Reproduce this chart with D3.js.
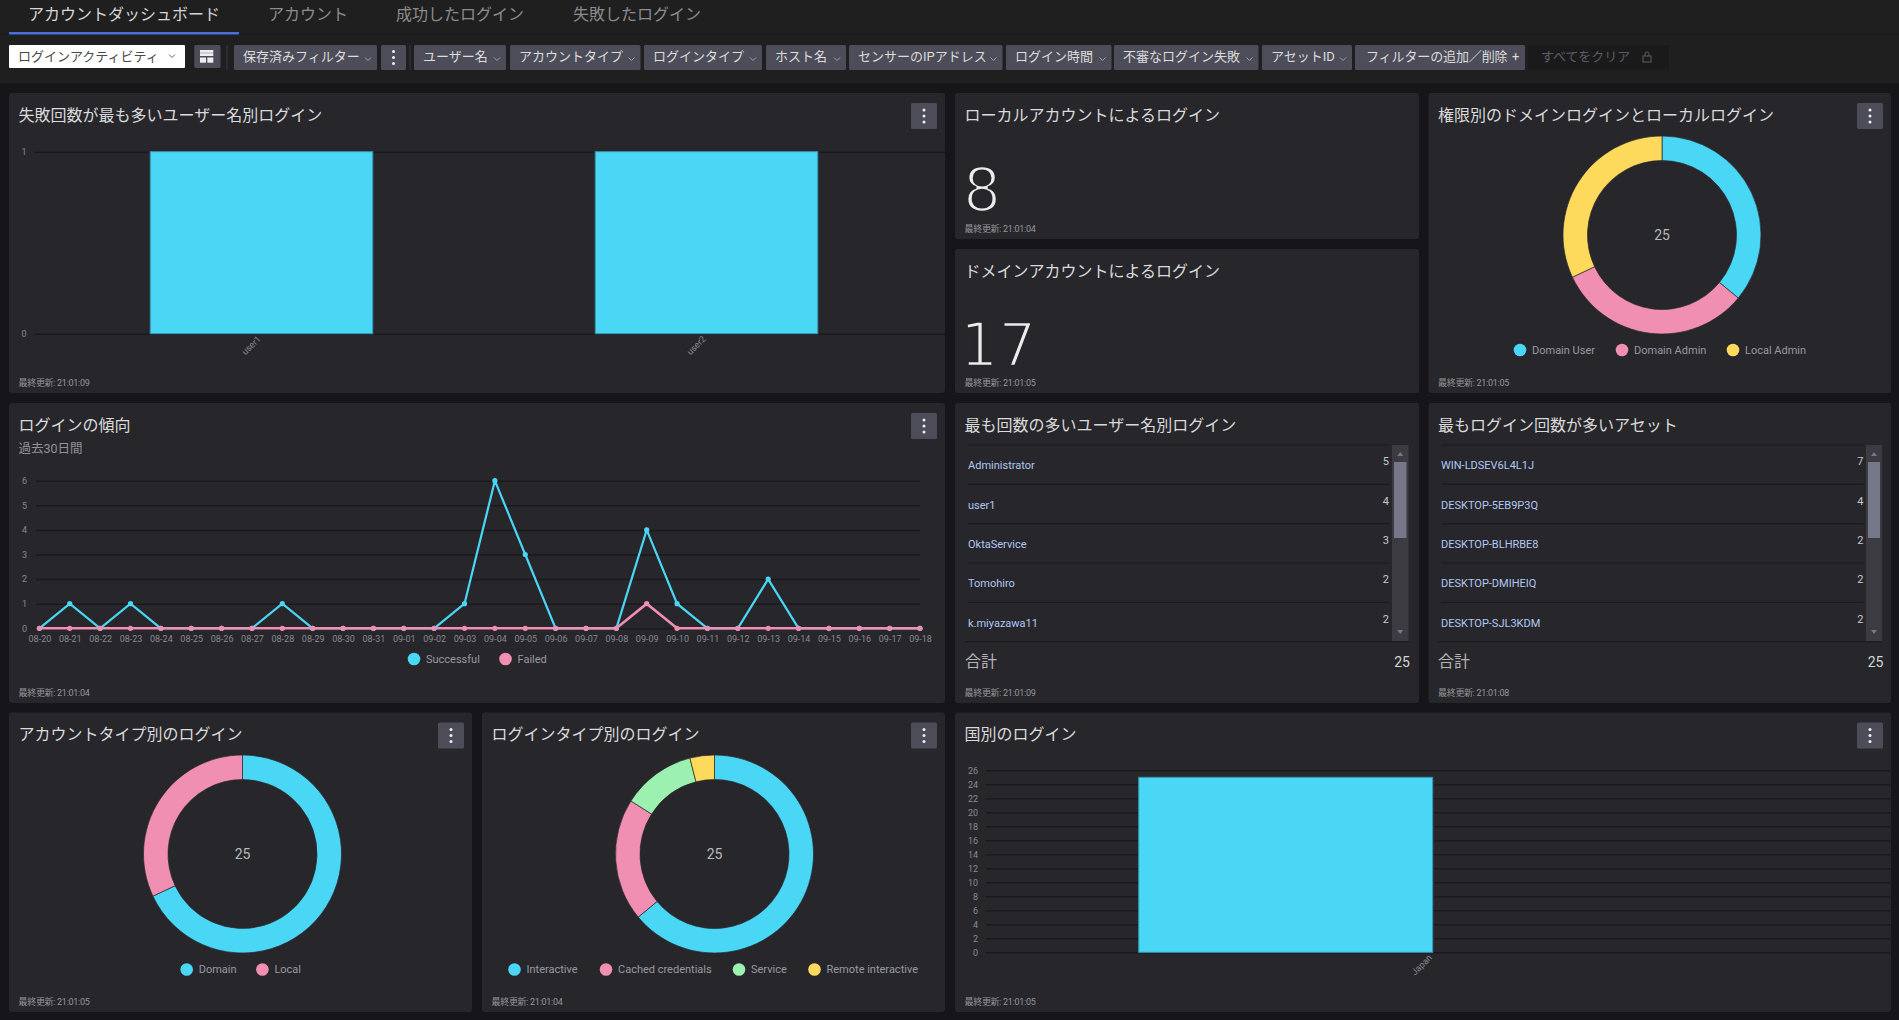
<!DOCTYPE html>
<html lang="ja">
<head>
<meta charset="utf-8">
<title>アカウントダッシュボード</title>
<script src="https://cdn.jsdelivr.net/npm/d3@7"></script>
<style>
  html, body { margin: 0; padding: 0; background: #15151a; overflow: hidden; }
  svg { display: block; }
  text { font-family: Roboto, "Noto Sans CJK JP", sans-serif; }
  .grid line { stroke: #1a1a1e; stroke-width: 1.5; }
  .grid .domain, .xaxis .domain, .xaxis line { display: none; }
  .grid text, .xaxis text { fill: #8a8a92; font-size: 9px; font-family: Roboto, sans-serif; }
</style>
</head>
<body>
<svg id="chart" width="1899" height="1020"></svg>
<script>
// data
const tabLabels = ['アカウントダッシュボード', 'アカウント', '成功したログイン', '失敗したログイン'];
const filterLabels = ['保存済みフィルター', 'ユーザー名', 'アカウントタイプ', 'ログインタイプ', 'ホスト名', 'センサーのIPアドレス', 'ログイン時間', '不審なログイン失敗', 'アセットID'];

const failedUsers = ['user1', 'user2'];
const failedUserCounts = [1, 1];

const localLogins = 8;
const domainLogins = 17;

const privilegeLabels = ['Domain User', 'Domain Admin', 'Local Admin'];
const privilegeCounts = [9, 8, 8];

const trendDates = ['08-20', '08-21', '08-22', '08-23', '08-24', '08-25', '08-26', '08-27', '08-28', '08-29', '08-30', '08-31', '09-01', '09-02', '09-03', '09-04', '09-05', '09-06', '09-07', '09-08', '09-09', '09-10', '09-11', '09-12', '09-13', '09-14', '09-15', '09-16', '09-17', '09-18'];
const trendSuccessful = [0, 1, 0, 1, 0, 0, 0, 0, 1, 0, 0, 0, 0, 0, 1, 6, 3, 0, 0, 0, 4, 1, 0, 0, 2, 0, 0, 0, 0, 0];
const trendFailed = [0, 0, 0, 0, 0, 0, 0, 0, 0, 0, 0, 0, 0, 0, 0, 0, 0, 0, 0, 0, 1, 0, 0, 0, 0, 0, 0, 0, 0, 0];

const topUsers = ['Administrator', 'user1', 'OktaService', 'Tomohiro', 'k.miyazawa11'];
const topUserCounts = [5, 4, 3, 2, 2];
const topAssets = ['WIN-LDSEV6L4L1J', 'DESKTOP-5EB9P3Q', 'DESKTOP-BLHRBE8', 'DESKTOP-DMIHEIQ', 'DESKTOP-SJL3KDM'];
const topAssetCounts = [7, 4, 2, 2, 2];
const listTotal = 25;

const accountTypes = ['Domain', 'Local'];
const accountTypeCounts = [17, 8];
const loginTypes = ['Interactive', 'Cached credentials', 'Service', 'Remote interactive'];
const loginTypeCounts = [16, 5, 3, 1];

const countries = ['Japan'];
const countryCounts = [25];

// colors
const CYAN = '#4ad6f5';
const PINK = '#f08fb2';
const GREEN = '#9cf1b0';
const YELLOW = '#fdd95c';
const PANEL = '#26262b';

const svg = d3.select('#chart');

// top bar
svg.append('rect').attr('width', 1899).attr('height', 83).attr('fill', '#1f1f20');
svg.append('line').attr('x1', 0).attr('x2', 1899).attr('y1', 34).attr('y2', 34)
  .attr('stroke', '#1a1a1b').attr('stroke-width', 1);

const tabX = [28, 268, 396, 573];
svg.selectAll('.tab').data(tabLabels).join('text')
  .attr('class', 'tab')
  .attr('x', (d, i) => tabX[i])
  .attr('y', 14)
  .attr('dy', '0.36em')
  .attr('font-size', 16)
  .attr('fill', (d, i) => (i === 0 ? '#d6d6d6' : '#8c8c8c'))
  .text(d => d);
svg.append('rect').attr('x', 9).attr('y', 32).attr('width', 230).attr('height', 2.5).attr('fill', '#4a6fdc');

// toolbar
function button(x0, x1, h) {
  svg.append('rect').attr('x', x0).attr('y', 45).attr('width', x1 - x0).attr('height', h)
    .attr('rx', 1.5).attr('fill', '#4d4d59');
}
function chevron(x, y, color) {
  svg.append('path')
    .attr('d', d3.line()([[x - 3, y - 1.5], [x, y + 1.5], [x + 3, y - 1.5]]))
    .attr('fill', 'none').attr('stroke', color).attr('stroke-width', 0.9);
}
function dots(cx, cy, gap) {
  svg.append('g').selectAll('circle').data([-gap, 0, gap]).join('circle')
    .attr('cx', cx).attr('cy', d => cy + d).attr('r', 1.5).attr('fill', '#f0f0f0');
}

svg.append('rect').attr('x', 9).attr('y', 45).attr('width', 176).attr('height', 23).attr('rx', 1).attr('fill', '#fff');
svg.append('text').attr('x', 18).attr('y', 56).attr('dy', '0.36em').attr('font-size', 13).attr('fill', '#4a4a4a').text('ログインアクティビティ');
chevron(172, 56, '#555');

button(194.3, 220.5, 23);
svg.append('g').selectAll('rect').data([[200, 50, 13.3, 2.8], [200, 53.2, 13.3, 2.8], [200, 57.5, 6, 5.2], [207.3, 57.5, 6, 5.2]]).join('rect')
  .attr('x', d => d[0]).attr('y', d => d[1]).attr('width', d => d[2]).attr('height', d => d[3]).attr('fill', '#eee');

svg.append('g').selectAll('line').data([227, 410]).join('line')
  .attr('x1', d => d).attr('x2', d => d).attr('y1', 45).attr('y2', 70).attr('stroke', '#3a3a40');

const filterEdges = [[234, 377], [414, 506], [510, 640.5], [644, 762], [766, 846], [849, 1002.5], [1006, 1111.5], [1114, 1258.5], [1262, 1352]];
filterLabels.forEach((label, i) => {
  const [x0, x1] = filterEdges[i];
  button(x0, x1, 25);
  svg.append('text').attr('x', x0 + 9).attr('y', 56.5).attr('dy', '0.36em').attr('font-size', 13).attr('fill', '#dcdcdc').text(label);
  chevron(x1 - 9, 59, '#a8a8b0');
});
button(381, 406, 25);
dots(393.5, 57.5, 6);
button(1355, 1525, 25);
svg.append('text').attr('x', 1366).attr('y', 56.5).attr('dy', '0.36em').attr('font-size', 13).attr('letter-spacing', -0.12).attr('fill', '#dcdcdc').text('フィルターの追加／削除');
svg.append('text').attr('x', 1512).attr('y', 56.5).attr('dy', '0.36em').attr('font-size', 13).attr('fill', '#dcdcdc').text('+');

svg.append('rect').attr('x', 1528).attr('y', 45).attr('width', 141).attr('height', 25).attr('rx', 1.5).attr('fill', '#1a1a1b');
svg.append('text').attr('x', 1541).attr('y', 56.5).attr('dy', '0.36em').attr('font-size', 13).attr('fill', '#5c5c68').text('すべてをクリア');
svg.append('rect').attr('x', 1643).attr('y', 56).attr('width', 8).attr('height', 6).attr('fill', 'none').attr('stroke', '#5c5c68');
svg.append('path').attr('d', 'M1645,56v-2a2,2 0 0 1 4,0v2').attr('fill', 'none').attr('stroke', '#5c5c68');

// panels
function panel(x0, y0, x1, y1, title, updated, hasMenu) {
  svg.append('rect').attr('x', x0).attr('y', y0).attr('width', x1 - x0).attr('height', y1 - y0)
    .attr('rx', 3).attr('fill', PANEL);
  svg.append('text').attr('x', x0 + 9.5).attr('y', y0 + 22).attr('dy', '0.36em')
    .attr('font-size', 16).attr('fill', '#dadada').text(title);
  svg.append('text').attr('x', x0 + 9.5).attr('y', y1 - 10).attr('dy', '0.36em')
    .attr('font-size', 9).attr('letter-spacing', -0.3).attr('fill', '#96969c').text('最終更新: ' + updated);
  if (hasMenu) {
    svg.append('rect').attr('x', x1 - 34).attr('y', y0 + 10).attr('width', 26).attr('height', 26)
      .attr('rx', 1.5).attr('fill', '#4d4d59');
    dots(x1 - 21, y0 + 23, 6);
  }
}

panel(9, 93, 945, 393, '失敗回数が最も多いユーザー名別ログイン', '21:01:09', true);
panel(955, 93, 1419, 239, 'ローカルアカウントによるログイン', '21:01:04', false);
panel(955, 249, 1419, 393, 'ドメインアカウントによるログイン', '21:01:05', false);
panel(1428.5, 93, 1891, 393, '権限別のドメインログインとローカルログイン', '21:01:05', true);
panel(9, 403, 945, 703, 'ログインの傾向', '21:01:04', true);
panel(955, 403, 1419, 703, '最も回数の多いユーザー名別ログイン', '21:01:09', false);
panel(1428.5, 403, 1891, 703, '最もログイン回数が多いアセット', '21:01:08', false);
panel(9, 712.5, 472, 1012, 'アカウントタイプ別のログイン', '21:01:05', true);
panel(482, 712.5, 945, 1012, 'ログインタイプ別のログイン', '21:01:04', true);
panel(955, 712.5, 1891, 1012, '国別のログイン', '21:01:05', true);

// bar charts
function barChart(names, values, o) {
  const x = d3.scaleBand().domain(names).range([o.x0, o.x1]).paddingInner(0.5).paddingOuter(0.25);
  const y = d3.scaleLinear().domain([0, o.yMax]).range([o.yBottom, o.yTop]);
  svg.append('g').attr('class', 'grid')
    .attr('transform', `translate(${o.gridLeft},0)`)
    .call(d3.axisLeft(y).tickValues(o.ticks).tickFormat(d3.format('d')).tickSize(-(o.gridRight - o.gridLeft)).tickPadding(8));
  svg.append('g').selectAll('rect').data(values).join('rect')
    .attr('x', (d, i) => x(names[i]))
    .attr('y', d => y(d))
    .attr('width', x.bandwidth())
    .attr('height', d => y(0) - y(d))
    .attr('fill', CYAN)
    .attr('stroke', '#3297b0')
    .attr('stroke-width', 1);
  svg.append('g').attr('class', 'xaxis')
    .attr('transform', `translate(0,${o.yBottom})`)
    .call(d3.axisBottom(x).tickSize(0).tickPadding(2))
    .selectAll('text')
    .attr('text-anchor', 'end')
    .attr('transform', `translate(${o.labelShift},0) rotate(-45)`);
}

barChart(failedUsers, failedUserCounts, {
  x0: 39, x1: 929, yTop: 151.7, yBottom: 333.7, yMax: 1, ticks: [0, 1],
  gridLeft: 34.5, gridRight: 945, labelShift: -6
});
barChart(countries, countryCounts, {
  x0: 991.7, x1: 1579.7, yTop: 770.3, yBottom: 952.3, yMax: 26, ticks: d3.range(0, 27, 2),
  gridLeft: 986, gridRight: 1891, labelShift: 141
});

// big numbers, stroke in the panel color thins the glyphs down
function bigNumber(value, x, baseline) {
  svg.append('text').attr('x', x).attr('y', baseline)
    .attr('font-size', 60).attr('fill', '#ececec')
    .attr('stroke', PANEL).attr('stroke-width', 2.6).attr('paint-order', 'fill stroke')
    .style('font-family', '"DejaVu Sans", sans-serif')
    .text(value);
}
bigNumber(localLogins, 963, 211);
bigNumber(domainLogins, 960, 365.5);

// legends
function legend(items, colors, circleX, y) {
  const g = svg.append('g').selectAll('g').data(items).join('g')
    .attr('transform', (d, i) => `translate(${circleX[i]},${y})`);
  g.append('circle').attr('r', 6.3).attr('fill', (d, i) => colors[i]);
  g.append('text').attr('x', 12).attr('dy', '0.36em').attr('font-size', 11).attr('fill', '#9a9aa0').text(d => d);
}

// donuts
function donut(counts, colors, cx, cy) {
  const pie = d3.pie().sort(null);
  const arc = d3.arc().innerRadius(74.5).outerRadius(99);
  const g = svg.append('g').attr('transform', `translate(${cx},${cy})`);
  g.selectAll('path').data(pie(counts)).join('path')
    .attr('d', arc)
    .attr('fill', (d, i) => colors[i])
    .attr('stroke', '#2a2a2e')
    .attr('stroke-width', 0.7);
  g.append('text').attr('text-anchor', 'middle').attr('dy', '0.36em')
    .attr('font-size', 14).attr('fill', '#b8b8bc').text(d3.sum(counts));
}

donut(privilegeCounts, [CYAN, PINK, YELLOW], 1662, 235);
legend(privilegeLabels, [CYAN, PINK, YELLOW], [1520, 1622, 1733], 350);
donut(accountTypeCounts, [CYAN, PINK], 242.5, 854);
legend(accountTypes, [CYAN, PINK], [186.7, 262.4], 969.5);
donut(loginTypeCounts, [CYAN, PINK, GREEN, YELLOW], 714.5, 854);
legend(loginTypes, [CYAN, PINK, GREEN, YELLOW], [514.5, 606, 739, 814.5], 969.5);

// login trend
svg.append('text').attr('x', 18.5).attr('y', 448).attr('dy', '0.36em')
  .attr('font-size', 12.5).attr('fill', '#92929a').text('過去30日間');

const trendX = d3.scalePoint().domain(trendDates).range([39.4, 920]);
const trendY = d3.scaleLinear().domain([0, 6]).range([628.3, 480.7]);

svg.append('g').attr('class', 'grid')
  .attr('transform', 'translate(36,0)')
  .call(d3.axisLeft(trendY).ticks(6).tickFormat(d3.format('d')).tickSize(-884).tickPadding(9));
svg.append('g').attr('class', 'xaxis')
  .attr('transform', 'translate(0,628.3)')
  .call(d3.axisBottom(trendX).tickSize(0).tickPadding(7));

function trendSeries(values, color, width) {
  const line = d3.line().x((d, i) => trendX(trendDates[i])).y(d => trendY(d));
  svg.append('path').attr('d', line(values)).attr('fill', 'none').attr('stroke', color).attr('stroke-width', width);
  svg.append('g').selectAll('circle').data(values).join('circle')
    .attr('cx', (d, i) => trendX(trendDates[i]))
    .attr('cy', d => trendY(d))
    .attr('r', 2.6)
    .attr('fill', color);
}
trendSeries(trendSuccessful, CYAN, 2.2);
trendSeries(trendFailed, PINK, 2.6);
legend(['Successful', 'Failed'], [CYAN, PINK], [414, 505.5], 659);

// top lists
function topList(names, counts, o) {
  const rowY = d3.scaleLinear().domain([0, 5]).range([445, 641.7]);
  svg.append('g').selectAll('line').data(d3.range(6)).join('line')
    .attr('x1', d => (d === 5 ? o.textX - 3 : o.textX))
    .attr('x2', d => (d === 5 ? o.barX1 : o.valueX))
    .attr('y1', d => rowY(d)).attr('y2', d => rowY(d))
    .attr('stroke', '#1b1b1f').attr('stroke-width', 1.2);
  svg.append('g').selectAll('text').data(names).join('text')
    .attr('x', o.textX)
    .attr('y', (d, i) => rowY(i) + 20.5)
    .attr('dy', '0.36em')
    .attr('font-size', 11)
    .attr('fill', '#b3c8f2')
    .text(d => d);
  svg.append('g').selectAll('text').data(counts).join('text')
    .attr('x', o.valueX)
    .attr('y', (d, i) => rowY(i) + 16.5)
    .attr('dy', '0.36em')
    .attr('text-anchor', 'end')
    .attr('font-size', 11)
    .attr('fill', '#c8c8cc')
    .text(d => d);
  // scrollbar
  svg.append('rect').attr('x', o.barX0).attr('y', 445).attr('width', o.barX1 - o.barX0).attr('height', 196).attr('fill', '#3b3b41');
  svg.append('rect').attr('x', o.barX0 + 2).attr('y', 462).attr('width', o.barX1 - o.barX0 - 4).attr('height', 76).attr('fill', '#77778a');
  const ax = (o.barX0 + o.barX1) / 2;
  svg.append('path').attr('d', d3.line()([[ax - 3, 456], [ax + 3, 456], [ax, 452]])).attr('fill', '#77778a');
  svg.append('path').attr('d', d3.line()([[ax - 3, 630], [ax + 3, 630], [ax, 634]])).attr('fill', '#77778a');
  // total
  svg.append('text').attr('x', o.textX - 3).attr('y', 661.7).attr('dy', '0.36em')
    .attr('font-size', 16).attr('fill', '#b4b4b8').text('合計');
  svg.append('text').attr('x', o.barX1 + 1.5).attr('y', 662).attr('dy', '0.36em').attr('text-anchor', 'end')
    .attr('font-size', 14).attr('fill', '#d4d4d8').text(listTotal);
}
topList(topUsers, topUserCounts, { textX: 968, valueX: 1389, barX0: 1392, barX1: 1408.5 });
topList(topAssets, topAssetCounts, { textX: 1441, valueX: 1863.5, barX0: 1866, barX1: 1882 });
</script>
</body>
</html>
